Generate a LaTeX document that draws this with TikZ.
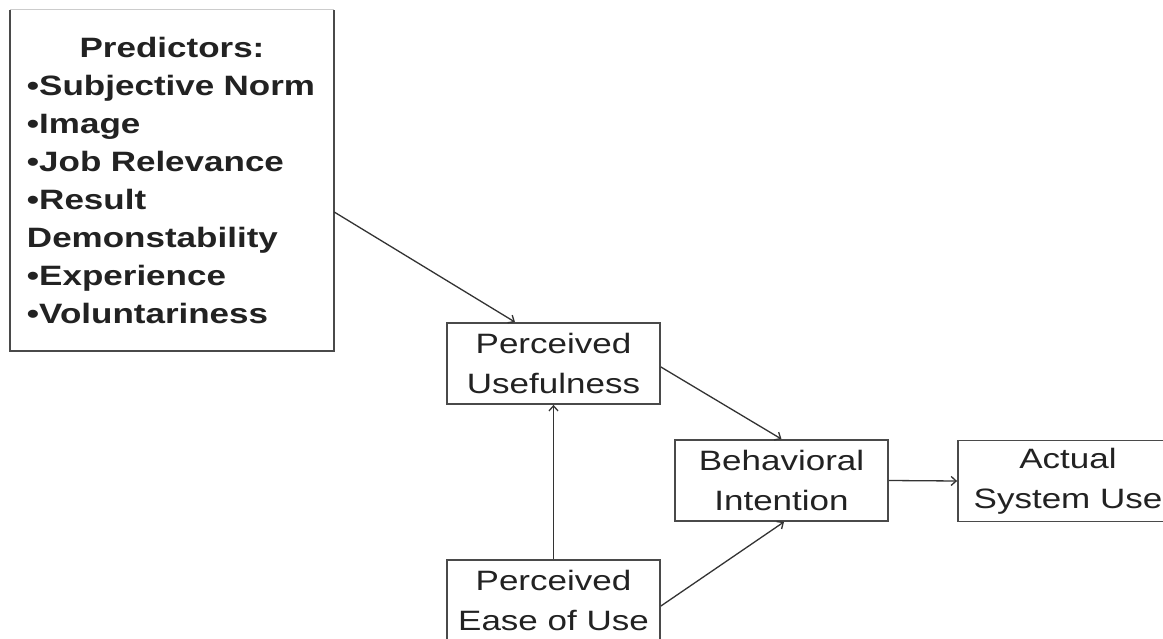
\documentclass[tikz,border=0pt]{standalone}
\usepackage{fontspec}
\usetikzlibrary{arrows.meta}
\newfontfamily\diagfont{Liberation Sans}[FakeStretch=1.25]
\definecolor{boxline}{HTML}{4A4A4A}
\definecolor{ink}{HTML}{222222}
\definecolor{wire}{HTML}{333333}
\tikzset{
  stage/.style={draw=boxline, line width=1.8pt, fill=white, inner sep=0pt,
    minimum width=213pt, minimum height=81pt, align=center, text=ink,
    font={\diagfont\fontsize{28}{40}\selectfont}},
  link/.style={draw=wire, line width=1.3pt,
    -{Straight Barb[length=5pt,width=9pt,line width=1.3pt]}},
  predbox/.style={inner sep=0pt, minimum width=324pt, minimum height=341pt,
    text width=290pt, align=left, text=ink,
    font={\diagfont\bfseries\fontsize{28}{38.1}\selectfont}}
}
\begin{document}
\begin{tikzpicture}[x=1pt,y=-1pt]
\useasboundingbox (0,0) rectangle (1163,639);
\fill[white] (0,0) rectangle (1163,639);
\begin{scope}
\clip (0,0) rectangle (1163,639);

% list of predictors
\node[predbox] (pred) at (172,180.5) {%
  \makebox[\linewidth][c]{Predictors:}\\
  •Subjective Norm\\
  •Image\\
  •Job Relevance\\
  •Result\\
  Demonstability\\
  •Experience\\
  •Voluntariness};
\draw[boxline, line width=1.8pt] (pred.north west) -- (pred.south west)
  -- (pred.south east) -- (pred.north east);
\draw[black!20, line width=1.2pt] (pred.north west) -- (pred.north east);

% model stages
\node[stage] (pu)   at (553.5,363.5) {Perceived\\Usefulness};
\node[stage] (peou) at (553.5,600.5) {Perceived\\Ease of Use};
\node[stage] (bi)   at (781.5,480.5) {Behavioral\\Intention};
\node[stage, minimum width=220pt] (asu) at (1068,481) {Actual\\System Use};

% relations
\draw[link] ([yshift=-31.5pt]pred.east) -- ([xshift=-38.5pt]pu.north);
\draw[link] ([yshift=-3.5pt]pu.east) -- (bi.north);
\draw[link] ([yshift=-5.5pt]peou.east) -- ([xshift=2.5pt]bi.south);
\draw[link] (peou.north) -- (pu.south);
\draw[link] (bi.east) -- (asu.west);
\end{scope}
\end{tikzpicture}
\end{document}
